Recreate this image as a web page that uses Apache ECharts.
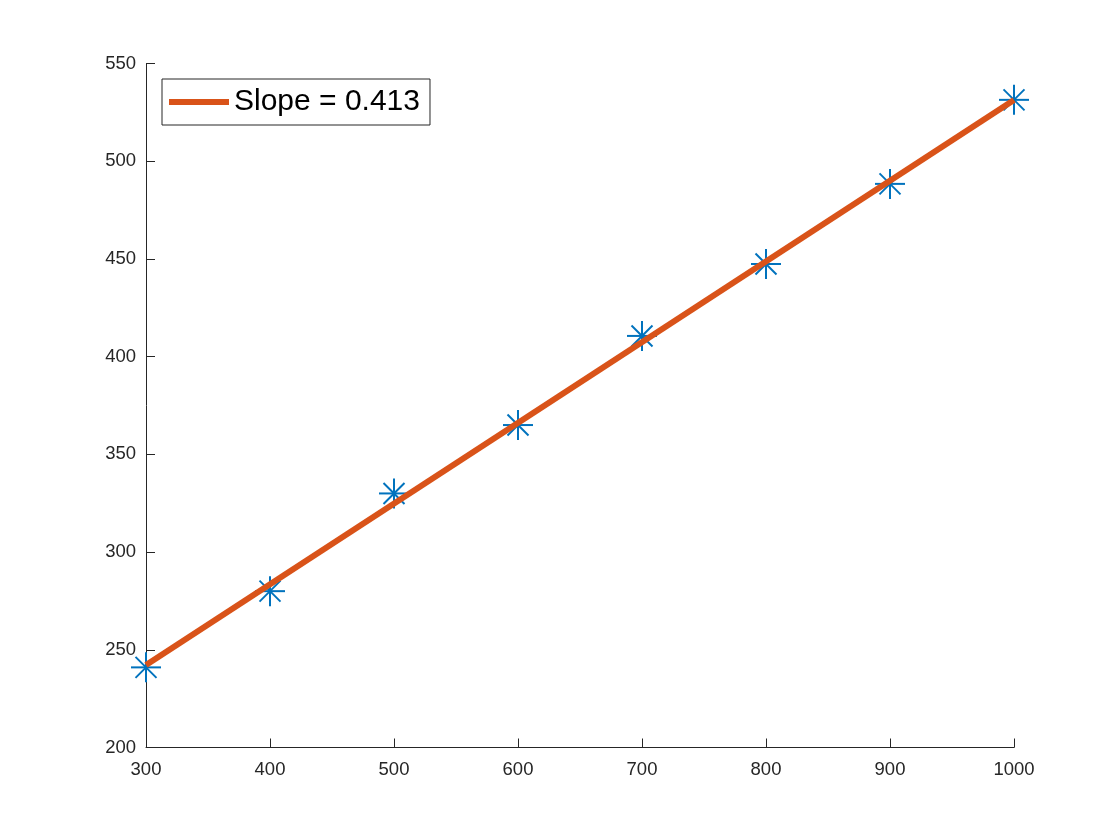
<!DOCTYPE html>
<html>
<head>
<meta charset="utf-8">
<script src="https://cdn.jsdelivr.net/npm/echarts@6/dist/echarts.min.js"></script>
<style>
html,body{margin:0;padding:0;background:#fff;}
#chart{width:1120px;height:840px;}
</style>
</head>
<body>
<div id="chart"></div>
<script>
// Data
const pointX = [300, 400, 500, 600, 700, 800, 900, 1000];
const pointY = [241, 280, 330, 365, 410.6, 447.4, 488.4, 531.4];
const fitX = [300, 1000];
const fitY = [242.2, 531.3];
const fitLabel = 'Slope = 0.413';
const xTicks = [300, 400, 500, 600, 700, 800, 900, 1000];
const yTicks = [200, 250, 300, 350, 400, 450, 500, 550];

const chart = echarts.init(document.getElementById('chart'), null, {renderer: 'canvas'});
const FONT = '"Liberation Sans", Arial, Helvetica, sans-serif';
const AX = '#262626';

const scatterData = pointX.map((x, i) => [x, pointY[i]]);
const fitData = fitX.map((x, i) => [x, fitY[i]]);

function renderStar(params, api) {
  const p = api.coord([api.value(0), api.value(1)]);
  const r = 15, d = 10.5;
  const style = {stroke: '#0072BD', lineWidth: 2, fill: null};
  const seg = (x1, y1, x2, y2) => ({type: 'line', shape: {x1: p[0] + x1, y1: p[1] + y1, x2: p[0] + x2, y2: p[1] + y2}, style: style});
  return {
    type: 'group',
    children: [
      seg(-r, 0, r, 0),
      seg(0, -r, 0, r),
      seg(-d, -d, d, d),
      seg(-d, d, d, -d)
    ]
  };
}

chart.setOption({
  animation: false,
  backgroundColor: '#ffffff',
  grid: {left: 146, right: 106, top: 63.5, bottom: 92.5, containLabel: false},
  xAxis: {
    type: 'value', min: 300, max: 1000, interval: 100,
    axisLine: {show: true, lineStyle: {color: AX, width: 1}},
    axisTick: {show: true, inside: true, length: 9, lineStyle: {color: AX, width: 1}},
    axisLabel: {color: AX, fontSize: 18.5, fontFamily: FONT, margin: 13,
      formatter: v => xTicks.includes(v) ? String(v) : ''},
    splitLine: {show: false}
  },
  yAxis: {
    type: 'value', min: 200, max: 550, interval: 50,
    axisLine: {show: true, lineStyle: {color: AX, width: 1}},
    axisTick: {show: true, inside: true, length: 9, lineStyle: {color: AX, width: 1}},
    axisLabel: {color: AX, fontSize: 18.5, fontFamily: FONT, margin: 10,
      formatter: v => yTicks.includes(v) ? String(v) : ''},
    splitLine: {show: false}
  },
  legend: {
    data: [{name: fitLabel, icon: 'rect'}],
    left: 162, top: 79,
    orient: 'vertical',
    itemWidth: 60, itemHeight: 6,
    padding: [8, 10, 8, 7],
    borderColor: AX, borderWidth: 1,
    backgroundColor: '#fff',
    textStyle: {color: '#000', fontSize: 30, fontFamily: FONT, lineHeight: 28},
    selectedMode: false
  },
  series: [
    {
      type: 'custom',
      name: 'data',
      data: scatterData,
      renderItem: renderStar,
      z: 2,
      clip: false
    },
    {
      type: 'line',
      name: fitLabel,
      data: fitData,
      showSymbol: false,
      symbol: 'none',
      lineStyle: {color: '#D95319', width: 6},
      itemStyle: {color: '#D95319'},
      z: 3
    }
  ]
});
</script>
</body>
</html>
